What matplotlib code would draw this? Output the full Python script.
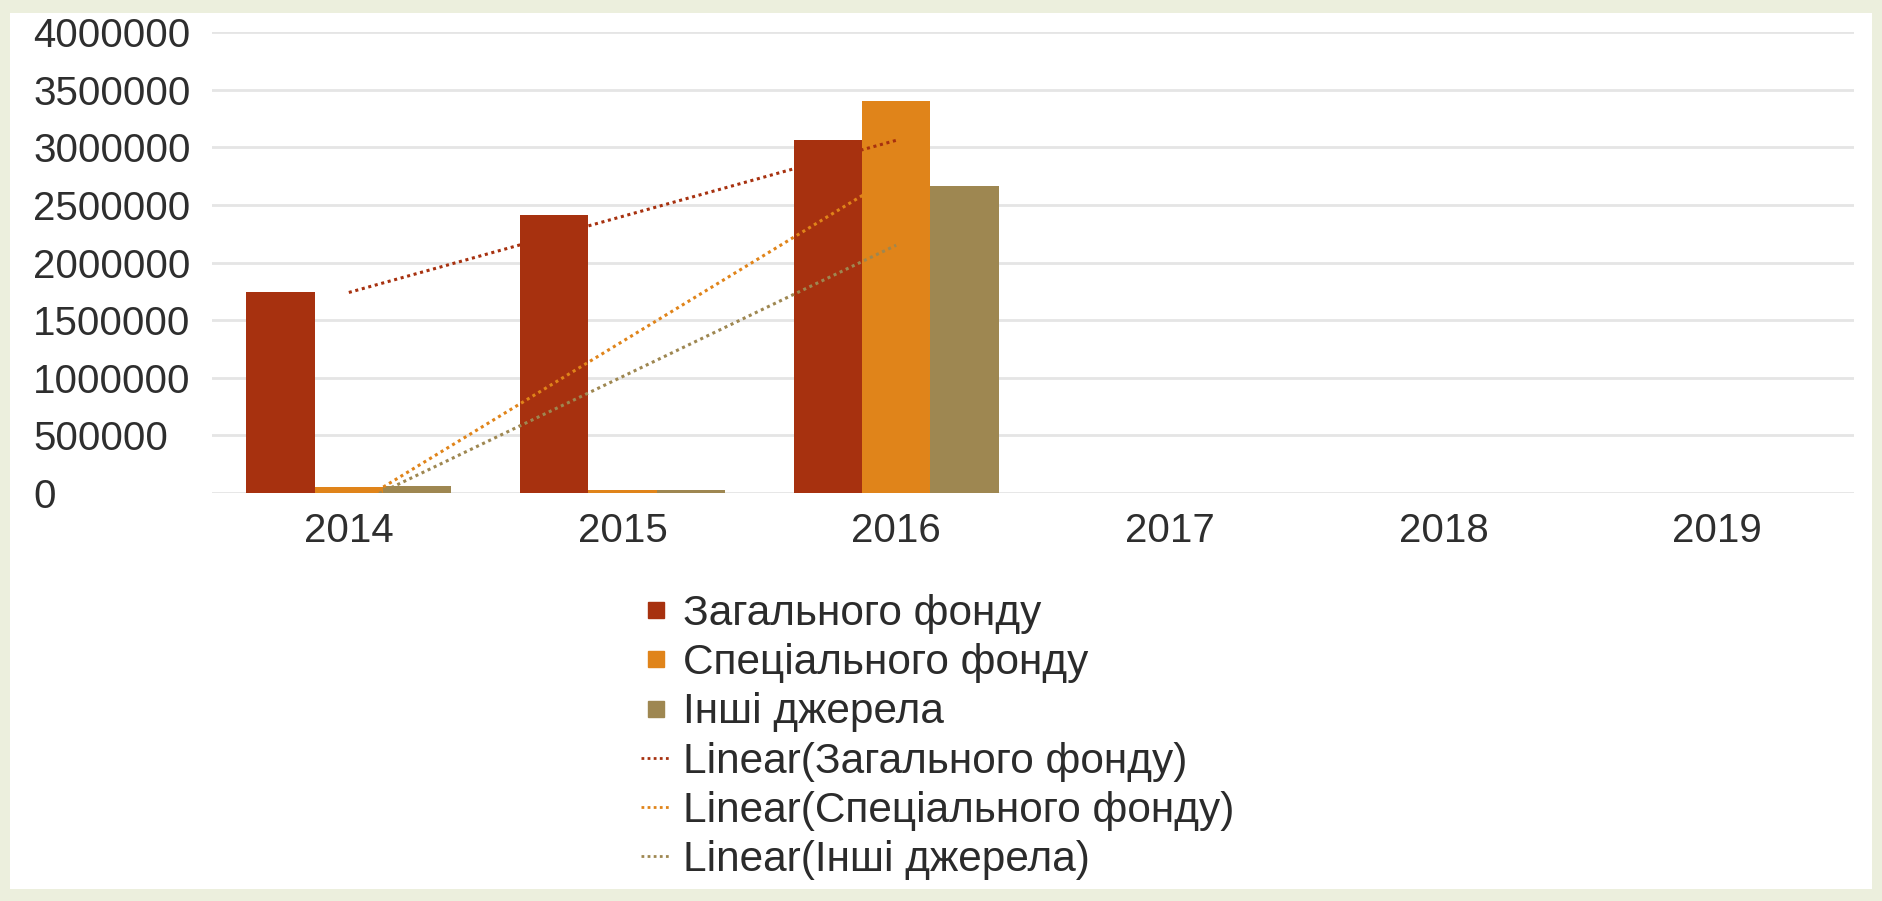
import matplotlib
matplotlib.use("Agg")
import matplotlib.pyplot as plt
from matplotlib.lines import Line2D
from matplotlib.patches import Rectangle
import numpy as np

# ---------------------------------------------------------------------------
# Dados
# ---------------------------------------------------------------------------
anos = ["2014", "2015", "2016", "2017", "2018", "2019"]
series = ["Загального фонду", "Спеціального фонду", "Інші джерела"]
zagalnogo = [1740000, 2410000, 3060000]
spetsialnogo = [50000, 25000, 3400000]
inshi = [60000, 22000, 2660000]
# tendencias lineares (valor em 2014 e em 2016)
trend_zagalnogo = [1740000, 3060000]
trend_spetsialnogo = [-130000, 2760000]
trend_inshi = [-130000, 2150000]
yticks = [0, 500000, 1000000, 1500000, 2000000, 2500000, 3000000, 3500000, 4000000]

cores = ["#A7310F", "#E0841A", "#9E8751"]

plt.rcParams["font.family"] = ["Liberation Sans", "DejaVu Sans"]

W, H = 1882, 901
fig = plt.figure(figsize=(W / 100, H / 100), dpi=100, facecolor="#ECEFDD")
# painel branco
fig.patches.append(Rectangle((10 / W, 12 / H), (1872 - 10) / W, (890 - 14) / H,
                             transform=fig.transFigure, facecolor="white",
                             edgecolor="none", zorder=-5))

ax = fig.add_axes([212 / W, 1 - 493 / H, (1854 - 212) / W, (493 - 32) / H])
ax.set_facecolor("none")
ax.set_zorder(2)

x = np.arange(len(anos))
larg = 0.25
dados = [zagalnogo, spetsialnogo, inshi]
for i, (vals, cor) in enumerate(zip(dados, cores)):
    pos = x[:len(vals)] + (i - 1) * larg
    ax.bar(pos, vals, width=larg, color=cor, zorder=2, linewidth=0)

trends = [trend_zagalnogo, trend_spetsialnogo, trend_inshi]
for t, cor in zip(trends, cores):
    ax.plot([x[0], x[2]], t, color=cor, lw=2.2, ls=(0, (1, 1.2)), zorder=3)

ax.set_xlim(-0.5, len(anos) - 0.5)
ax.set_ylim(0, 4000000)
ax.set_yticks(yticks)
ax.set_yticklabels([str(v) for v in yticks])
ax.set_xticks(x)
ax.set_xticklabels(anos)

ax.grid(axis="y", color="#E5E5E5", lw=2.0, zorder=1)
ax.set_axisbelow(True)
for s in ax.spines.values():
    s.set_visible(False)
ax.tick_params(axis="both", length=0, labelsize=29, colors="#2E2E2E")
ax.tick_params(axis="x", pad=14)
ax.tick_params(axis="y", pad=(212 - 33) * 0.72)
for lab in ax.get_yticklabels():
    lab.set_horizontalalignment("left")

# legenda
handles = [Line2D([], [], marker="s", ls="none", color=c, markersize=11) for c in cores]
handles += [Line2D([], [], color=c, lw=2, ls=(0, (1, 1.2))) for c in cores]
labels = series + [f"Linear({s})" for s in series]
fig.legend(handles, labels, loc="center", bbox_to_anchor=(938 / W, 1 - 737 / H),
           frameon=False, fontsize=30.5, handlelength=0.7, handletextpad=0.3,
           labelspacing=0.22, labelcolor="#2B2B2B")

fig.savefig("out.png", dpi=100, facecolor=fig.get_facecolor())
